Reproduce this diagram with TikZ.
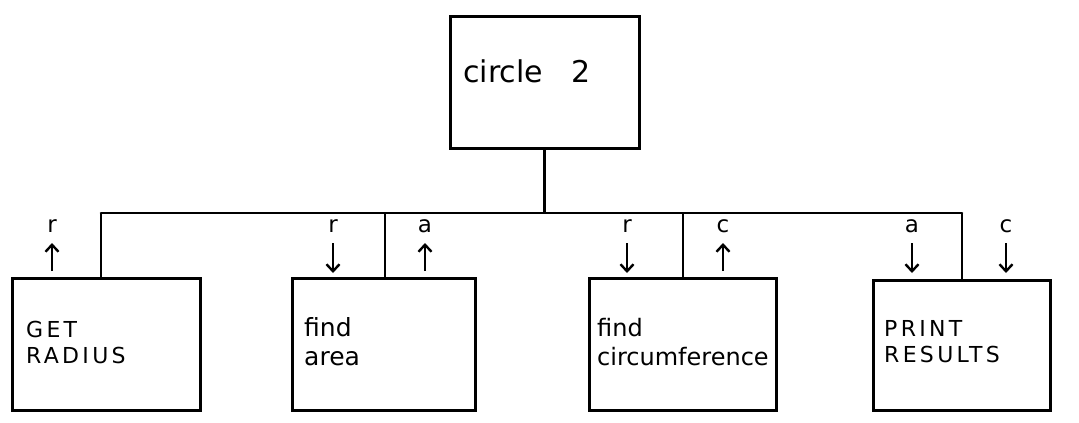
\documentclass[tikz,border=0pt]{standalone}
\usepackage{fontspec}
\setmainfont{DejaVu Sans}
\newfontfamily\capsfont[LetterSpace=15]{DejaVu Sans}
\usetikzlibrary{arrows.meta}
\begin{document}
\begin{tikzpicture}[x=1pt,y=-1pt,
  modbox/.style={draw,line width=3pt,minimum height=132pt,inner sep=0pt},
  wire/.style={line width=2.6pt},
  flow/.style={line width=2.4pt,-{Straight Barb[length=7pt,width=13pt,line width=2.4pt]}},
  lbl/.style={font=\fontsize{23}{23}\selectfont,inner sep=0pt},
  txt/.style={font=\fontsize{25}{29}\selectfont,align=left,inner sep=0pt,anchor=west},
  caps/.style={font=\capsfont\fontsize{22}{26}\selectfont,align=left,inner sep=0pt,anchor=west}
]
\useasboundingbox (0,0) rectangle (1079,423);

% boxes
\node[modbox,minimum width=189pt] (top) at (544.5,82) {};
\node[modbox,minimum width=188pt] (b1) at (106,344) {};
\node[modbox,minimum width=183pt] (b2) at (383.5,344) {};
\node[modbox,minimum width=187pt] (b3) at (682.5,344) {};
\node[modbox,minimum width=177pt,minimum height=130pt] (b4) at (961.5,345) {};

% texts
\node[txt,font=\fontsize{30}{34}\selectfont] (t0) at (463,71) {circle\ \ \ 2};
\node[caps] (t1) at (26,342) {GET\\RADIUS};
\node[txt] (t2) at (304,342) {find\\area};
\node[txt,font=\fontsize{24}{29}\selectfont] (t3) at (597,342) {find\\circumference};
\node[caps] (t4) at (884,342) {PRINT\\RESULTS};

% bus
\coordinate (busL) at (101,213);
\coordinate (busR) at (962,213);
\coordinate (j2) at (385,213);
\coordinate (j3) at (683,213);
\draw[wire] (top.south) -- (top.south |- busL);
\draw[wire,line cap=round] (busL) -- (busR);
\draw[wire] (busL) -- (busL |- b1.north);
\draw[wire] (j2) -- (j2 |- b2.north);
\draw[wire] (j3) -- (j3 |- b3.north);
\draw[wire] (busR) -- (busR |- b4.north);

% data flow labels
\node[lbl] (l1) at (52,226) {r};
\node[lbl] (l2) at (333,226) {r};
\node[lbl] (l3) at (425,226) {a};
\node[lbl] (l4) at (627,226) {r};
\node[lbl] (l5) at (723,226) {c};
\node[lbl] (l6) at (912,226) {a};
\node[lbl] (l7) at (1006,226) {c};

% data flow arrows
\coordinate (u1a) at (52,271); \coordinate (u1b) at (52,243);
\coordinate (d2a) at (333,243); \coordinate (d2b) at (333,273);
\coordinate (u3a) at (425,271); \coordinate (u3b) at (425,243);
\coordinate (d4a) at (627,243); \coordinate (d4b) at (627,273);
\coordinate (u5a) at (723,271); \coordinate (u5b) at (723,243);
\coordinate (d6a) at (912,243); \coordinate (d6b) at (912,273);
\coordinate (d7a) at (1006,243); \coordinate (d7b) at (1006,273);
\draw[flow] (u1a) -- (u1b);
\draw[flow] (d2a) -- (d2b);
\draw[flow] (u3a) -- (u3b);
\draw[flow] (d4a) -- (d4b);
\draw[flow] (u5a) -- (u5b);
\draw[flow] (d6a) -- (d6b);
\draw[flow] (d7a) -- (d7b);
\end{tikzpicture}
\end{document}
